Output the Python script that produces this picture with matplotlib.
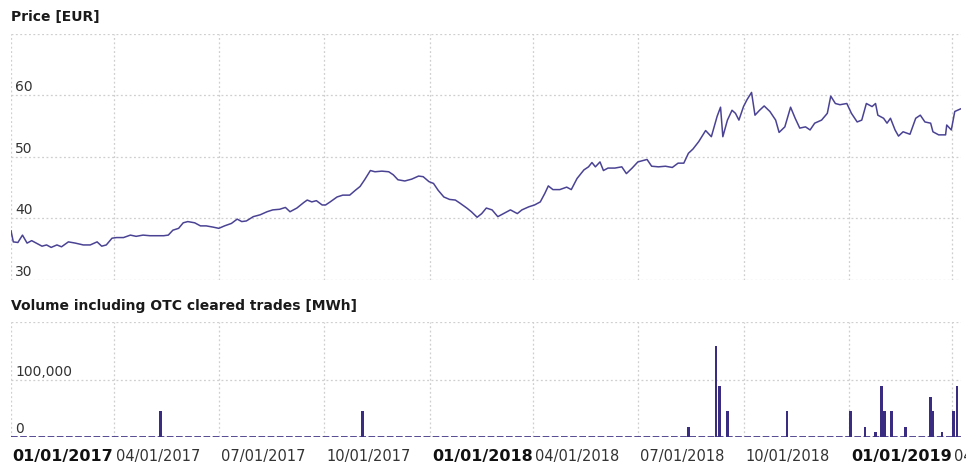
import numpy as np
import pandas as pd
import matplotlib
matplotlib.use('Agg')
import matplotlib.pyplot as plt
import matplotlib.dates as mdates

# data (days counted from 01/01/2017)
start = pd.Timestamp('2017-01-01')

price_day = [0, 2, 6, 10, 14, 18, 22, 27, 31, 35, 40, 44, 50, 56, 63, 69, 75, 79, 83, 88,
             92, 98, 104, 109, 115, 121, 127, 133, 137, 141, 146, 150, 154, 160, 165, 170, 176, 181, 186, 192,
             197, 201, 205, 211, 217, 223, 228, 234, 239, 243, 249, 255, 258, 262, 266, 271, 274, 278, 284, 289,
             295, 300, 304, 308, 313, 317, 323, 329, 333, 337, 343, 349, 355, 359, 364, 368, 372, 377, 382, 387,
             391, 397, 401, 406, 410, 414, 419, 424, 429, 435, 441, 445, 451, 456, 461, 465, 468, 472, 478, 484,
             488, 493, 499, 503, 506, 509, 513, 516, 520, 526, 532, 536, 541, 546, 552, 554, 558, 564, 570, 576,
             581, 586, 590, 594, 599, 605, 610, 615, 618, 620, 624, 628, 631, 634, 638, 641, 645, 648, 652, 656,
             661, 666, 669, 674, 679, 683, 687, 692, 696, 700, 706, 711, 714, 718, 722, 728, 732, 737, 741, 745,
             750, 753, 755, 760, 763, 766, 770, 773, 777, 783, 788, 792, 796, 801, 803, 808, 814, 815, 819, 822,
             828]
price_eur = [38.0, 36.2, 36.1, 37.3, 36.0, 36.4, 36.0, 35.5, 35.7, 35.3, 35.7, 35.4, 36.2, 36.0, 35.7, 35.7, 36.2, 35.5, 35.7, 36.8,
             36.9, 36.9, 37.3, 37.1, 37.3, 37.2, 37.2, 37.2, 37.3, 38.1, 38.4, 39.3, 39.5, 39.3, 38.8, 38.8, 38.6, 38.4, 38.8, 39.2,
             39.9, 39.5, 39.6, 40.3, 40.6, 41.1, 41.4, 41.5, 41.8, 41.1, 41.7, 42.6, 43.0, 42.7, 42.9, 42.2, 42.2, 42.7, 43.5, 43.8,
             43.8, 44.6, 45.2, 46.3, 47.8, 47.6, 47.7, 47.6, 47.1, 46.3, 46.1, 46.4, 46.9, 46.8, 46.0, 45.7, 44.6, 43.5, 43.1, 43.0,
             42.5, 41.7, 41.1, 40.2, 40.8, 41.7, 41.4, 40.3, 40.8, 41.4, 40.8, 41.4, 41.9, 42.2, 42.7, 44.1, 45.3, 44.7, 44.7, 45.1,
             44.7, 46.5, 47.9, 48.4, 49.1, 48.4, 49.2, 47.8, 48.2, 48.2, 48.4, 47.3, 48.2, 49.2, 49.5, 49.6, 48.5, 48.4, 48.5, 48.3,
             49.0, 49.0, 50.6, 51.3, 52.5, 54.3, 53.3, 56.6, 58.1, 53.3, 56.0, 57.6, 57.1, 56.0, 58.2, 59.3, 60.5, 56.8, 57.6, 58.3,
             57.4, 56.0, 54.0, 54.9, 58.1, 56.3, 54.7, 54.9, 54.4, 55.5, 56.0, 57.1, 59.9, 58.7, 58.5, 58.7, 57.1, 55.7, 56.0, 58.7,
             58.2, 58.7, 56.8, 56.3, 55.5, 56.3, 54.4, 53.4, 54.1, 53.7, 56.3, 56.8, 55.7, 55.5, 54.1, 53.6, 53.6, 55.2, 54.4, 57.4,
             57.9]

vol_day = [130, 306, 590, 614, 617, 624, 676, 731, 744, 753, 758, 760, 761, 767, 779, 801, 803, 811, 821, 824]
vol_mwh = [45000, 45000, 17500, 158000, 88000, 45000, 45000, 45000, 17500, 9000,
           88000, 17500, 45000, 45000, 17500, 70000, 45000, 9000, 45000, 88000]

quarter_str = ['2017-01-01', '2017-04-01', '2017-07-01', '2017-10-01', '2018-01-01',
               '2018-04-01', '2018-07-01', '2018-10-01', '2019-01-01', '2019-04-01']
quarter_labels = ['01/01/2017', '04/01/2017', '07/01/2017', '10/01/2017', '01/01/2018',
                  '04/01/2018', '07/01/2018', '10/01/2018', '01/01/2019', '04/01/2019']

price_dates = start + pd.to_timedelta(price_day, unit='D')
vol_dates = start + pd.to_timedelta(vol_day, unit='D')
quarters = pd.to_datetime(quarter_str)

line_col = '#4a4394'
bar_col = '#3a2c80'
grid_col = '#cfcfcf'

fig = plt.figure(figsize=(9.66, 4.66), dpi=100)
W, H = 966, 466
ax1 = fig.add_axes([11 / W, 186 / H, 949.5 / W, 246 / H])
ax2 = fig.add_axes([11 / W, 29 / H, 949.5 / W, 115 / H])

xmin, xmax = pd.Timestamp('2017-01-01'), pd.Timestamp('2019-04-08')

for ax in (ax1, ax2):
    ax.set_xlim(xmin, xmax)
    ax.set_xticks(quarters)
    ax.tick_params(length=0, labelbottom=False, labelleft=False)
    ax.grid(True, color=grid_col, linestyle=(0, (1.5, 2)), linewidth=0.9)
    ax.set_axisbelow(True)
    for s in ax.spines.values():
        s.set_visible(False)

# price panel
ax1.plot(price_dates, price_eur, color=line_col, linewidth=1.1)
ax1.set_ylim(30, 70)
ax1.set_yticks([30, 40, 50, 60, 70])
for v in [30, 40, 50, 60]:
    ax1.text(0.0045, v + 0.2, str(v), transform=ax1.get_yaxis_transform(),
             ha='left', va='bottom', fontsize=10, color='#333333')

# volume panel
ax2.hlines(0, xmin, xmax, color=bar_col, linewidth=1.2, linestyles=(0, (4, 1.5)))
ax2.bar(vol_dates, vol_mwh, width=2.2, color=bar_col, align='center')
ax2.set_ylim(0, 200000)
ax2.set_yticks([0, 100000, 200000])
for v in [0, 100000]:
    ax2.text(0.0045, v + 1500, f'{v:,}', transform=ax2.get_yaxis_transform(),
             ha='left', va='bottom', fontsize=10, color='#333333')

# date labels under the volume panel
for d, lab in zip(quarters, quarter_labels):
    bold = lab.startswith('01/01')
    ax2.text(mdates.date2num(d) + 1.5, -0.17, lab, transform=ax2.get_xaxis_transform(),
             ha='left', va='center', fontsize=11.5 if bold else 10.5,
             fontweight='bold' if bold else 'normal',
             color='#111111' if bold else '#333333', clip_on=False)

fig.text(11 / W, 1 - 17 / H, 'Price [EUR]', fontsize=10, fontweight='bold',
         color='#1a1a1a', ha='left', va='center')
fig.text(11 / W, 1 - 306 / H, 'Volume including OTC cleared trades [MWh]', fontsize=10,
         fontweight='bold', color='#1a1a1a', ha='left', va='center')

fig.savefig('out.png', dpi=100)
